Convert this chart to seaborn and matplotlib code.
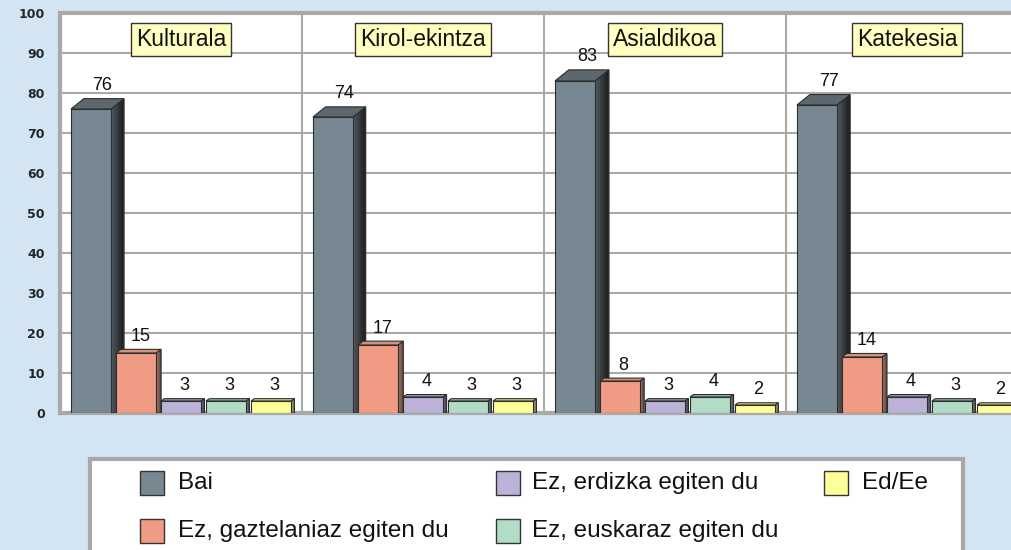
import numpy as np
import pandas as pd
import matplotlib
matplotlib.use("Agg")
import matplotlib.pyplot as plt
from matplotlib.patches import Polygon, Rectangle
from matplotlib.colors import to_rgb
import seaborn as sns

# Data
ekintzak = ["Kulturala", "Kirol-ekintza", "Asialdikoa", "Katekesia"]
erantzunak = ["Bai", "Ez, gaztelaniaz egiten du", "Ez, erdizka egiten du",
              "Ez, euskaraz egiten du", "Ed/Ee"]
bai = [76, 74, 83, 77]
gaztelaniaz = [15, 17, 8, 14]
erdizka = [3, 4, 3, 4]
euskaraz = [3, 3, 4, 3]
ed_ee = [3, 3, 2, 2]
y_ticks = [0, 10, 20, 30, 40, 50, 60, 70, 80, 90, 100]

front_colors = ["#788892", "#f09c84", "#bcb2d8", "#b2dcc6", "#ffff99"]
side_colors = ["#555e64", "#a87c6e", "#7a7490", "#769084", "#b4b47c"]
side_dark = ["#1c1c1c", "#6a4e46", "#4c4858", "#4a5a52", "#7a7a52"]
top_colors = ["#5c676e", "#d4927c", "#a298bc", "#94bca8", "#dcdc84"]
bg = "#d3e5f3"
grid_c = "#a9a9a9"

df = pd.DataFrame({
    "Ekintza": ekintzak * 5,
    "Erantzuna": np.repeat(erantzunak, 4),
    "Ehunekoa": bai + gaztelaniaz + erdizka + euskaraz + ed_ee,
})

sns.set_style("white")
plt.rcParams["font.family"] = ["Liberation Sans", "DejaVu Sans"]

W, H = 1012, 550
fig = plt.figure(figsize=(W / 100, H / 100), dpi=100, facecolor=bg)
ax = fig.add_axes([60 / W, 1 - 413 / H, 1 - 60 / W, 400 / H])
ax.set_facecolor("white")

sns.barplot(data=df, x="Ekintza", y="Ehunekoa", hue="Erantzuna",
            order=ekintzak, hue_order=erantzunak,
            palette=dict(zip(erantzunak, front_colors)), saturation=1,
            width=0.93, gap=0.11, edgecolor="#2e2e2e", linewidth=0.8,
            legend=False, ax=ax)

ax.set_xlim(-0.5, -0.5 + (W - 60) / 242)
ax.set_ylim(0, 100)
ax.set_yticks(y_ticks)
ax.set_xticks([])
ax.set_xlabel("")
ax.set_ylabel("")
ax.tick_params(axis="y", length=0, pad=11)
for lab in ax.get_yticklabels():
    lab.set_family("DejaVu Sans")
    lab.set_fontweight("bold")
    lab.set_fontsize(9)

ax.set_axisbelow(True)
ax.yaxis.grid(True, color=grid_c, lw=1.5, zorder=0)
for xs in [0.5, 1.5, 2.5]:
    ax.axvline(xs, color=grid_c, lw=1.5, zorder=0.5)
for side in ["left", "top", "bottom"]:
    ax.spines[side].set_color(grid_c)
    ax.spines[side].set_linewidth(3)
ax.spines["right"].set_visible(False)

# 3D faces + value labels
px_x, px_y = 242.0, 4.0
slot = 0.93 / 5
n_strips = 5
for p in ax.patches[:]:
    x0, w, h = p.get_x(), p.get_width(), p.get_height()
    c = x0 + w / 2
    g = int(round(c))
    k = int(round((c - g) / slot + 2))
    x1 = x0 + w
    dx = (3 + 0.13 * h) / px_x
    dy = (2 + 0.11 * h) / px_y
    z = 3 + 2 * k
    p.set_zorder(z + 1)
    # side face with a soft shading from light to dark
    c_a, c_b = np.array(to_rgb(side_colors[k])), np.array(to_rgb(side_dark[k]))
    for i in range(n_strips):
        t0, t1 = i / n_strips, (i + 1) / n_strips
        col = c_a + (c_b - c_a) * (t0 + t1) / 2
        ax.add_patch(Polygon([(x1 + dx * t0, 0), (x1 + dx * t0, h + dy * t0),
                              (x1 + dx * t1, h + dy * t1), (x1 + dx * t1, 0)],
                             closed=True, fc=col, ec=col, lw=0.7, zorder=z))
    ax.add_patch(Polygon([(x1, 0), (x1, h), (x1 + dx, h + dy), (x1 + dx, 0)],
                         closed=True, fill=False, ec="#2e2e2e", lw=0.8, zorder=z))
    ax.add_patch(Polygon([(x0, h), (x0 + dx, h + dy), (x1 + dx, h + dy), (x1, h)],
                         closed=True, fc=top_colors[k], ec="#2e2e2e", lw=0.8, zorder=z))
    ax.text(c + dx * 0.9, h + dy + 2.1, f"{h:.0f}", ha="center", va="baseline",
            fontsize=13, color="#111111", zorder=20)

for g, name in enumerate(ekintzak):
    ax.text(g, 93.4, name, ha="center", va="center", fontsize=16.5, color="#111111",
            zorder=25,
            bbox=dict(boxstyle="square,pad=0.22", fc="#ffffc2", ec="#333333", lw=1))


# Legend drawn by hand in pixel positions
def fx(px):
    return px / W


def fy(py):
    return 1 - py / H


fig.add_artist(Rectangle((fx(90), fy(565)), (963 - 90) / W, (565 - 459) / H,
                         transform=fig.transFigure, fc="white", ec="#a8a8a8", lw=3))
leg_pos = [(140, 178, 483), (140, 178, 531), (496, 532, 483), (496, 532, 531),
           (824, 862, 483)]
for (sx, tx, ry), name, col in zip(leg_pos, erantzunak, front_colors):
    fig.add_artist(Rectangle((fx(sx), fy(ry + 12)), 24 / W, 24 / H,
                             transform=fig.transFigure, fc=col, ec="#333333", lw=1))
    fig.text(fx(tx), fy(ry), name, ha="left", va="center", fontsize=17.5,
             color="#111111")

fig.savefig("out.png", dpi=100, facecolor=bg)
